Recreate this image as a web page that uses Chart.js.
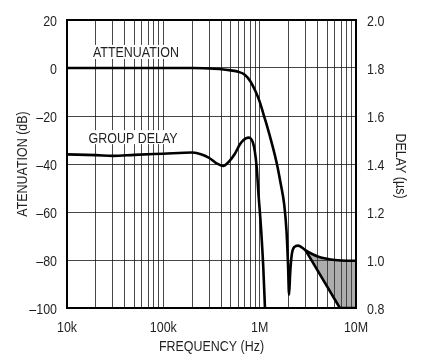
<!DOCTYPE html>
<html>
<head>
<meta charset="utf-8">
<script src="https://cdn.jsdelivr.net/npm/chart.js@4/dist/chart.umd.min.js"></script>
<style>
  html, body { margin: 0; padding: 0; background: #fff; }
  #wrap { width: 435px; height: 359px; position: relative; }
</style>
</head>
<body>
<div id="wrap"><canvas id="c" width="435" height="359"></canvas></div>
<script>
// ---- data ----
const attFreq = [1e4, 2e4, 5e4, 1e5, 2e5, 3e5, 4e5, 5e5, 6e5, 7e5, 8e5, 9e5, 1e6, 1.1e6, 1.2e6, 1.35e6, 1.5e6, 1.65e6, 1.8e6, 1.9e6, 1.97e6, 2.02e6, 2.07e6, 2.15e6, 2.3e6, 2.5e6, 3e6, 3.5e6, 4e6, 5e6, 6e6, 8e6, 1e7];
const attDb   = [0, 0, 0, 0, 0, -0.2, -0.5, -1.0, -1.6, -2.8, -5.5, -9.5, -14, -19.5, -24.5, -32, -39.5, -48, -57, -68, -82, -94.5, -86, -78, -74.5, -74, -76, -77.5, -78.5, -79.5, -80, -80.3, -80.3];

const delayFreq = [1e4, 2e4, 3e4, 5e4, 1e5, 2e5, 2.5e5, 3e5, 3.5e5, 4.2e5, 4.8e5, 5.55e5, 6.2e5, 6.8e5, 7.6e5, 8.5e5, 9.3e5, 9.7e5, 1.03e6, 1.09e6, 1.14e6];
const delayUs   = [1.44, 1.437, 1.434, 1.438, 1.443, 1.448, 1.44, 1.425, 1.405, 1.392, 1.41, 1.444, 1.48, 1.50, 1.51, 1.49, 1.39, 1.28, 1.14, 0.97, 0.78];

// lower edge of the shaded stop-band region (dB)
const shadeFreq = [3e6, 6.8e6, 1e7];
const shadeDb   = [-76, -100, -100];

const xTickValues = [1e4, 1e5, 1e6, 1e7];
const xTickLabels = ['10k', '100k', '1M', '10M'];
const yTickValues = [20, 0, -20, -40, -60, -80, -100];
const yTickLabels = ['20', '0', '\u201320', '\u201340', '\u201360', '\u201380', '\u2013100'];
const y2TickValues = [2.0, 1.8, 1.6, 1.4, 1.2, 1.0, 0.8];
const y2TickLabels = ['2.0', '1.8', '1.6', '1.4', '1.2', '1.0', '0.8'];

const xTitle = 'FREQUENCY (Hz)';
const yTitle = 'ATENUATION (dB)';
const y2Title = 'DELAY (\u00b5s)';

// ---- chart ----
const FONT = "'Liberation Sans', Arial, sans-serif";
const FSIZE = 15;
const NARROW = 0.83;     // condensed look of the original typeface
const CAPH = 5.5;        // half cap height (px) at FSIZE
const INK = '#231f20';
const GRID = 'rgba(20,20,20,0.78)';

const pts = (xs, ys) => xs.map((x, i) => ({ x: x, y: ys[i] }));

function narrowText(ctx, text, x, y, align, rot) {
  ctx.save();
  ctx.translate(x, y);
  if (rot) ctx.rotate(rot);
  ctx.scale(NARROW, 1);
  ctx.textAlign = align;
  ctx.textBaseline = 'alphabetic';
  ctx.fillText(text, 0, 0);
  ctx.restore();
}

const frame = {
  id: 'frame',
  afterDraw(chart) {
    const { ctx, chartArea: a } = chart;
    ctx.save();
    ctx.strokeStyle = '#000';
    ctx.lineWidth = 2;
    ctx.strokeRect(a.left, a.top, a.right - a.left, a.bottom - a.top);
    ctx.restore();
  }
};

const axisText = {
  id: 'axisText',
  afterDraw(chart) {
    const { ctx, chartArea: a } = chart;
    const sx = chart.scales.x, sy = chart.scales.y, sy2 = chart.scales.y2;
    ctx.save();
    ctx.fillStyle = INK;
    ctx.font = FSIZE + 'px ' + FONT;
    xTickValues.forEach((v, i) => narrowText(ctx, xTickLabels[i], sx.getPixelForValue(v), a.bottom + 24, 'center'));
    yTickValues.forEach((v, i) => narrowText(ctx, yTickLabels[i], a.left - 10, sy.getPixelForValue(v) + CAPH, 'right'));
    y2TickValues.forEach((v, i) => narrowText(ctx, y2TickLabels[i], a.right + 11, sy2.getPixelForValue(v) + CAPH, 'left'));
    const cx = (a.left + a.right) / 2, cy = (a.top + a.bottom) / 2;
    narrowText(ctx, xTitle, cx, a.bottom + 43, 'center');
    narrowText(ctx, yTitle, 21 + CAPH, cy, 'center', -Math.PI / 2);
    narrowText(ctx, y2Title, chart.width - 34 - CAPH, cy + 2, 'center', Math.PI / 2);
    ctx.restore();
  }
};

const labels = {
  id: 'curveLabels',
  beforeDatasetsDraw(chart, args, opts) {
    const { ctx } = chart;
    const xs = chart.scales.x, ys = chart.scales.y;
    ctx.save();
    ctx.font = FSIZE + 'px ' + FONT;
    opts.items.forEach(it => {
      const px = xs.getPixelForValue(it.x);
      const py = ys.getPixelForValue(it.y);
      const w = ctx.measureText(it.text).width * NARROW;
      ctx.fillStyle = '#fff';
      ctx.fillRect(px - w / 2 - 2, py - 7, w + 4, 14);
      ctx.fillStyle = INK;
      narrowText(ctx, it.text, px, py + CAPH, 'center');
    });
    ctx.restore();
  }
};

const minorTicks = [];
for (let e = 4; e < 7; e++) for (let m = 1; m < 10; m++) minorTicks.push(m * Math.pow(10, e));
minorTicks.push(1e7);

new Chart(document.getElementById('c'), {
  type: 'line',
  data: {
    datasets: [
      {
        label: 'Attenuation',
        data: pts(attFreq, attDb),
        yAxisID: 'y',
        borderColor: '#000',
        borderWidth: 2.6,
        pointRadius: 0,
        cubicInterpolationMode: 'monotone',
        fill: false
      },
      {
        label: 'Group delay',
        data: pts(delayFreq, delayUs),
        yAxisID: 'y2',
        borderColor: '#000',
        borderWidth: 2.6,
        pointRadius: 0,
        cubicInterpolationMode: 'monotone',
        fill: false
      },
      {
        label: 'Shaded',
        data: pts(shadeFreq, shadeDb),
        yAxisID: 'y',
        borderColor: '#000',
        borderWidth: 2.6,
        pointRadius: 0,
        tension: 0,
        fill: 0,
        backgroundColor: 'rgba(60,60,60,0.42)'
      }
    ]
  },
  options: {
    responsive: false,
    animation: false,
    events: [],
    layout: { padding: { top: 20, left: 0, right: 0, bottom: 0 } },
    plugins: {
      legend: { display: false },
      tooltip: { enabled: false },
      curveLabels: {
        items: [
          { text: 'ATTENUATION', x: 5.2e4, y: 6.7 },
          { text: 'GROUP DELAY', x: 4.85e4, y: -28.8 }
        ]
      }
    },
    scales: {
      x: {
        type: 'logarithmic',
        min: 1e4, max: 1e7,
        afterBuildTicks: s => { s.ticks = minorTicks.map(v => ({ value: v })); },
        afterFit: s => { s.height = 51; },
        ticks: { autoSkip: false, maxRotation: 0, display: false },
        grid: { color: GRID, lineWidth: 1, drawTicks: false },
        border: { display: false },
        title: { display: false }
      },
      y: {
        type: 'linear', position: 'left',
        min: -100, max: 20,
        afterBuildTicks: s => { s.ticks = yTickValues.map(v => ({ value: v })); },
        afterFit: s => { s.width = 67; },
        ticks: { display: false },
        grid: { color: GRID, lineWidth: 1, drawTicks: false },
        border: { display: false },
        title: { display: false }
      },
      y2: {
        type: 'linear', position: 'right',
        min: 0.8, max: 2.0,
        afterBuildTicks: s => { s.ticks = y2TickValues.map(v => ({ value: v })); },
        afterFit: s => { s.width = 79; },
        ticks: { display: false },
        grid: { drawOnChartArea: false, drawTicks: false },
        border: { display: false },
        title: { display: false }
      }
    }
  },
  plugins: [labels, frame, axisText]
});
</script>
</body>
</html>
